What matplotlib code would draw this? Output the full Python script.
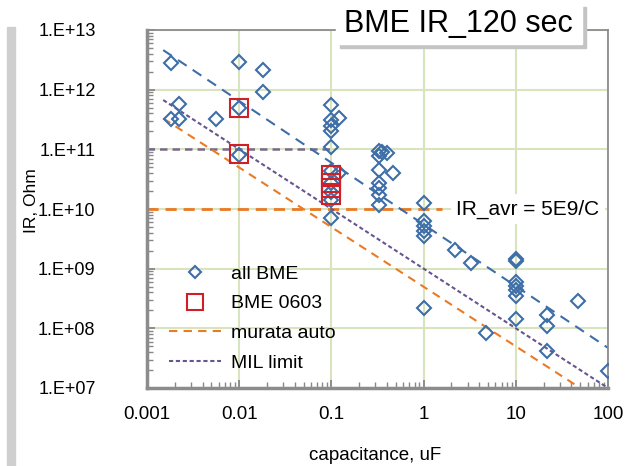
import matplotlib
matplotlib.use('Agg')
from matplotlib import pyplot as plt
from matplotlib.patches import Rectangle
from matplotlib.ticker import FixedLocator, FixedFormatter, LogLocator, NullFormatter

plt.rcParams['font.family'] = ['Liberation Sans', 'DejaVu Sans']

# all BME parts: capacitance (uF) and IR (Ohm)
bme_c = [0.0018, 0.0018, 0.0022, 0.0022, 0.0056, 0.01, 0.01, 0.01, 0.018, 0.018,
         0.1, 0.12, 0.1, 0.1, 0.1, 0.1, 0.1, 0.12, 0.1, 0.1, 0.1, 0.1,
         0.33, 0.4, 0.33, 0.33, 0.47, 0.33, 0.33, 0.33, 0.33, 0.35,
         1, 1, 1, 1, 1, 1, 2.2, 3.3, 4.7,
         10, 10, 10, 10, 10, 10, 10, 22, 22, 22, 47, 100]
bme_ir = [2.8e12, 3.2e11, 5.7e11, 3.2e11, 3.2e11, 2.9e12, 5e11, 8.1e10, 2.1e12, 9e11,
          5.5e11, 3.4e11, 3.1e11, 2.45e11, 2e11, 1.1e11, 4.3e10, 4e10, 2.7e10, 1.96e10, 1.4e10, 7.1e9,
          9.3e10, 8.7e10, 7.6e10, 4.5e10, 4e10, 2.7e10, 2.25e10, 1.7e10, 1.17e10, 9e10,
          1.25e10, 6.2e9, 5.1e9, 4.2e9, 3.5e9, 2.2e8, 2.07e9, 1.23e9, 8.3e7,
          1.45e9, 1.35e9, 6e8, 5.1e8, 4.4e8, 3.5e8, 1.43e8, 1.7e8, 1.1e8, 4.1e7, 2.9e8, 1.9e7]

# BME 0603 parts
c0603 = [0.01, 0.01, 0.1, 0.1, 0.1, 0.1]
ir0603 = [5e11, 8.2e10, 3.7e10, 2.7e10, 2.25e10, 1.7e10]

# trend / limit lines (end points)
avr_c = [0.0015, 100]
avr_ir = [4.6e12, 4.7e7]
murata_c = [0.0015, 50]
murata_ir = [3.3e11, 1e7]
mil_c = [0.0015, 100]
mil_ir = [6.7e11, 1e7]
h11_c = [0.001, 0.1]
h11_ir = [1e11, 1e11]
h10_c = [0.001, 1.6]
h10_ir = [1e10, 1e10]

xticks = [0.001, 0.01, 0.1, 1, 10, 100]
xlabels = ['0.001', '0.01', '0.1', '1', '10', '100']
yticks = [1e7, 1e8, 1e9, 1e10, 1e11, 1e12, 1e13]
ylabels = ['1.E+07', '1.E+08', '1.E+09', '1.E+10', '1.E+11', '1.E+12', '1.E+13']

blue = '#3e6ea8'
red = '#d01f26'
orange = '#eb7a25'
purple = '#67558f'

fig = plt.figure(figsize=(6.44, 4.66), dpi=100)
ax = fig.add_axes([147 / 644, 1 - 388 / 466, 461 / 644, 358 / 466])

ax.set_xscale('log')
ax.set_yscale('log')
ax.set_xlim(0.001, 100)
ax.set_ylim(1e7, 1e13)

ax.grid(True, which='major', color='#d8e4be', lw=1.5)
ax.set_axisbelow(True)

# lines
ax.plot(h11_c, h11_ir, color='#7a6a8a', lw=1.8, dashes=(3, 2))
ax.plot(h10_c, h10_ir, color=orange, lw=2.0, dashes=(4, 2.5))
ax.plot(avr_c, avr_ir, color=blue, lw=1.5, dashes=(5, 3.5))
l_mur, = ax.plot(murata_c, murata_ir, color=orange, lw=1.5, dashes=(4, 3), label='murata auto')
l_mil, = ax.plot(mil_c, mil_ir, color=purple, lw=1.5, dashes=(2, 1.3), label='MIL limit')

# points
p_all, = ax.plot(bme_c, bme_ir, ls='none', marker='D', ms=7.5, mfc='none', mec=blue, mew=1.5,
                 label='all BME', zorder=4)
p_0603, = ax.plot(c0603, ir0603, ls='none', marker='s', ms=13, mfc='none', mec=red, mew=1.5,
                  label='BME 0603', zorder=5)

# axes format
ax.xaxis.set_major_locator(FixedLocator(xticks))
ax.xaxis.set_major_formatter(FixedFormatter(xlabels))
ax.yaxis.set_major_locator(FixedLocator(yticks))
ax.yaxis.set_major_formatter(FixedFormatter(ylabels))
ax.xaxis.set_minor_locator(LogLocator(base=10, subs=range(2, 10), numticks=20))
ax.yaxis.set_minor_locator(LogLocator(base=10, subs=range(2, 10), numticks=20))
ax.xaxis.set_minor_formatter(NullFormatter())
ax.yaxis.set_minor_formatter(NullFormatter())
ax.tick_params(axis='both', which='both', direction='in', color='#888888')
ax.tick_params(axis='both', which='major', length=6, width=1.3, labelsize=13.5)
ax.tick_params(axis='y', which='major', labelsize=13)
ax.tick_params(axis='both', which='minor', length=4, width=1)
ax.tick_params(axis='y', which='major', pad=37)
ax.tick_params(axis='x', which='major', pad=13)

for side in ['left', 'bottom']:
    ax.spines[side].set_color('#8c8c8c')
    ax.spines[side].set_linewidth(2.5)
for side in ['top', 'right']:
    ax.spines[side].set_color('#8c8c8c')
    ax.spines[side].set_linewidth(1.3)

fig.text(375 / 644, 1 - 455 / 466, 'capacitance, uF', ha='center', va='center', fontsize=13.5)
fig.text(31 / 644, 1 - 201 / 466, 'IR, Ohm', ha='center', va='center', rotation=90, fontsize=12.5)

# IR_avr label
ax.text(13.5, 1e10, 'IR_avr = 5E9/C', ha='center', va='center', fontsize=15, zorder=6,
        bbox=dict(boxstyle='square,pad=0.25', fc='white', ec='none'), clip_on=False)

leg = ax.legend(handles=[p_all, p_0603, l_mur, l_mil], loc='upper left',
                bbox_to_anchor=(0.03, 0.365), frameon=False, fontsize=14,
                handlelength=2.7, handletextpad=0.5, labelspacing=0.62,
                borderaxespad=0, markerscale=0.85, numpoints=1)

# title box with shadow
fig.patches.append(Rectangle((340 / 644, 1 - 48 / 466), 246 / 644, 41 / 466,
                             transform=fig.transFigure, color='#c4c4c4', zorder=3))
fig.patches.append(Rectangle((336 / 644, 1 - 44 / 466), 246 / 644, 41 / 466,
                             transform=fig.transFigure, color='white', zorder=4))
fig.text(458 / 644, 1 - 24 / 466, 'BME IR_120 sec', ha='center', va='center', fontsize=22,
         zorder=5)

# grey strip on the left edge
fig.patches.append(Rectangle((7 / 644, 0), 8 / 644, 1 - 27 / 466, transform=fig.transFigure,
                             color='#cfcfcf', zorder=0))

fig.savefig('out.png', dpi=100)
